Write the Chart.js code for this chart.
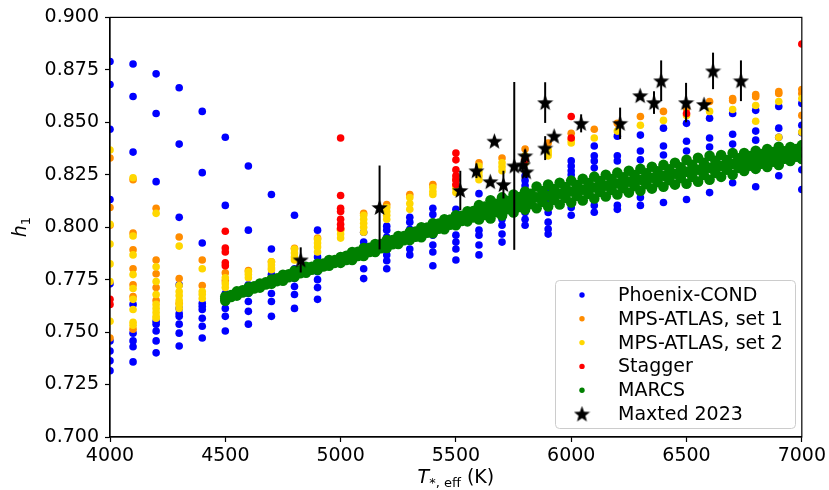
<!DOCTYPE html>
<html>
<head>
<meta charset="utf-8">
<script src="https://cdn.jsdelivr.net/npm/chart.js@4/dist/chart.umd.min.js"></script>
<style>
  html, body { margin: 0; padding: 0; background: #fff; }
  #c { display: block; }
</style>
</head>
<body>
<canvas id="c" width="829" height="490"></canvas>
<script>
// Phoenix-COND: one column of h1 values per temperature
const phoenixTemps = [4000, 4100, 4200, 4300, 4400, 4500, 4600, 4700, 4800, 4900, 5100, 5200, 5300, 5400, 5500,
  5600, 5700, 5800, 5900, 6000, 6100, 6200, 6300, 6400, 6500, 6600, 6700, 6800, 6900, 7000];
const phoenixH = [
  [0.879, 0.868, 0.8467, 0.8132, 0.773, 0.7458, 0.741, 0.7363, 0.7316],
  [0.8778, 0.8623, 0.8358, 0.7632, 0.7495, 0.7458, 0.743, 0.7358],
  [0.8731, 0.8542, 0.8217, 0.7552, 0.7538, 0.7505, 0.7458, 0.7401],
  [0.8665, 0.8396, 0.8047, 0.7726, 0.7613, 0.7589, 0.7575, 0.7538, 0.7495, 0.7434],
  [0.8552, 0.826, 0.7925, 0.7637, 0.7623, 0.7608, 0.7566, 0.7528, 0.7472],
  [0.8429, 0.8104, 0.7684, 0.7646, 0.7613, 0.7575, 0.7505],
  [0.8292, 0.7986, 0.7726, 0.7684, 0.7646, 0.7599, 0.7538],
  [0.8156, 0.7896, 0.7774, 0.7731, 0.7684, 0.7646, 0.7575],
  [0.8057, 0.7802, 0.7755, 0.7717, 0.7679, 0.7613],
  [0.7986, 0.7858, 0.7825, 0.7788, 0.775, 0.7712, 0.7656],
  [0.7976, 0.7929, 0.7896, 0.7858, 0.7802, 0.7755],
  [0.8005, 0.7986, 0.7953, 0.7891, 0.7868, 0.784, 0.7802],
  [0.8047, 0.8024, 0.799, 0.7962, 0.7934, 0.7896, 0.7868],
  [0.809, 0.8061, 0.8024, 0.7995, 0.7962, 0.7915, 0.7882, 0.7816],
  [0.8085, 0.8038, 0.8009, 0.7962, 0.7929, 0.7896, 0.7844],
  [0.816, 0.8104, 0.7986, 0.7962, 0.7915, 0.7868],
  [0.8132, 0.8038, 0.8009, 0.7967, 0.7929],
  [0.8245, 0.8222, 0.8198, 0.807, 0.8038, 0.8009],
  [0.8188, 0.8165, 0.8141, 0.8118, 0.807, 0.8024, 0.7991, 0.7967],
  [0.8316, 0.8292, 0.8269, 0.825, 0.8094, 0.8057],
  [0.8387, 0.834, 0.8316, 0.8283, 0.8104, 0.8071],
  [0.8434, 0.834, 0.8316, 0.8104, 0.8085],
  [0.8439, 0.8363, 0.8321, 0.8141, 0.8104],
  [0.8472, 0.8387, 0.8344, 0.8118],
  [0.8495, 0.841, 0.8363, 0.8132],
  [0.8519, 0.8425, 0.8382, 0.8165],
  [0.8542, 0.8443, 0.8396, 0.8212],
  [0.8557, 0.8458, 0.8415, 0.8193],
  [0.8575, 0.8472, 0.8429, 0.8245],
  [0.859, 0.8486, 0.845, 0.8274, 0.818]
];

// MPS-ATLAS set 1 and set 2 share the same temperature grid
const mpsTemps = [4000, 4100, 4200, 4300, 4400, 4500, 4600, 4700, 4800, 4900, 5000, 5100, 5200, 5300, 5400, 5500,
  5600, 5700, 5800, 5900, 6000, 6100, 6200, 6300, 6400, 6500, 6600, 6700, 6800, 6900, 7000];
const mps1H = [
  [0.833, 0.8094, 0.8009, 0.7472],
  [0.8226, 0.7972, 0.7892, 0.7802, 0.7726, 0.767, 0.7514],
  [0.809, 0.7844, 0.7778, 0.7712, 0.7651],
  [0.7953, 0.7755, 0.7637],
  [0.7844, 0.7722],
  [0.7783, 0.7745],
  [0.7793], [0.7835], [0.79], [0.7948], [0.799], [0.8066], [0.8108], [0.8156], [0.8203], [0.8226],
  [0.8307], [0.833], [0.8373], [0.8401], [0.8448], [0.8467], [0.8495], [0.8528], [0.8552], [0.8566],
  [0.8599], [0.8613, 0.8604], [0.8632, 0.8622], [0.8646, 0.8637], [0.8656, 0.8637, 0.8533]
];
const mps2H = [
  [0.8368, 0.8014, 0.792, 0.7825, 0.7741, 0.7552],
  [0.8236, 0.7958, 0.7868, 0.7774, 0.7708, 0.7656, 0.7608, 0.7547, 0.7533],
  [0.8066, 0.7811, 0.7741, 0.7679, 0.7632, 0.7613, 0.7594, 0.7575, 0.7566],
  [0.791, 0.7722, 0.7693, 0.7674, 0.7651, 0.7632, 0.7613],
  [0.7802, 0.7693, 0.7679, 0.766],
  [0.7759, 0.7731, 0.7712],
  [0.7788, 0.7774, 0.7759],
  [0.7835, 0.782, 0.7806, 0.7797],
  [0.7896, 0.7877, 0.7858, 0.7844],
  [0.7943, 0.7925, 0.7906, 0.7882],
  [0.7986, 0.7967, 0.7948],
  [0.8057, 0.8038, 0.8019, 0.8, 0.7976],
  [0.8094, 0.8075, 0.8057, 0.8038],
  [0.8141, 0.8113, 0.8085],
  [0.8189, 0.817, 0.8156],
  [0.8198, 0.8184, 0.8165],
  [0.8292, 0.8264, 0.8245, 0.8226],
  [0.8307, 0.8288, 0.8269],
  [0.834, 0.8321, 0.8307],
  [0.8368, 0.8354, 0.834],
  [0.8415, 0.8401],
  [0.8425], [0.8458], [0.8486], [0.8509], [0.8533], [0.8552], [0.8561],
  [0.858, 0.8505], [0.8599, 0.8429], [0.8613, 0.8453]
];

// Stagger grid
const staggerTemps = [4000, 4500, 5000, 5500, 5800, 6000, 6500, 7000];
const staggerH = [
  [0.7656, 0.7632],
  [0.7981, 0.7901, 0.7882, 0.783, 0.7816],
  [0.8425, 0.8151, 0.809, 0.8075, 0.8038, 0.8014, 0.7995],
  [0.8354, 0.8321, 0.8274, 0.8245, 0.8226, 0.8203],
  [0.8321],
  [0.8528, 0.8425],
  [0.8542],
  [0.8873]
];

const marcsTemps = [4500, 4550, 4600, 4650, 4700, 4750, 4800, 4850, 4900, 4950, 5000, 5050, 5100, 5150, 5200,
  5250, 5300, 5350, 5400, 5450, 5500, 5550, 5600, 5650, 5700, 5750, 5800, 5850, 5900, 5950, 6000, 6050, 6100,
  6150, 6200, 6250, 6300, 6350, 6400, 6450, 6500, 6550, 6600, 6650, 6700, 6750, 6800, 6850, 6900, 6950, 7000];
const marcsUpper = [0.767, 0.7694, 0.7713, 0.7732, 0.7751, 0.7773, 0.7792, 0.7811, 0.7825, 0.7844, 0.7858,
  0.7882, 0.7901, 0.792, 0.7939, 0.7958, 0.7977, 0.8, 0.8019, 0.8038, 0.8057, 0.8076, 0.8105, 0.8128, 0.8142,
  0.8156, 0.817, 0.8194, 0.8203, 0.8212, 0.8222, 0.8231, 0.8241, 0.825, 0.826, 0.8269, 0.8278, 0.8288, 0.8297,
  0.8307, 0.8321, 0.8331, 0.834, 0.8344, 0.8354, 0.8354, 0.8364, 0.8373, 0.8383, 0.8382, 0.8391];
const marcsCentre = [0.766, 0.7684, 0.7703, 0.7722, 0.7741, 0.7759, 0.7778, 0.7797, 0.7811, 0.783, 0.7844,
  0.7863, 0.7882, 0.7901, 0.792, 0.7939, 0.7958, 0.7976, 0.7995, 0.8014, 0.8033, 0.8052, 0.8071, 0.8085, 0.8099,
  0.8113, 0.8127, 0.8142, 0.8151, 0.816, 0.817, 0.8179, 0.8189, 0.8198, 0.8208, 0.8217, 0.8226, 0.8236, 0.8245,
  0.8255, 0.8264, 0.8274, 0.8283, 0.8292, 0.8302, 0.8311, 0.8321, 0.833, 0.834, 0.8349, 0.8358];
const marcsLower = [0.765, 0.7674, 0.7693, 0.7712, 0.7731, 0.7745, 0.7764, 0.7783, 0.7797, 0.7816, 0.783,
  0.7844, 0.7863, 0.7882, 0.7901, 0.792, 0.7939, 0.7952, 0.7971, 0.799, 0.8009, 0.8028, 0.8037, 0.8042, 0.8056,
  0.807, 0.8084, 0.809, 0.8099, 0.8108, 0.8118, 0.8127, 0.8137, 0.8146, 0.8156, 0.8165, 0.8174, 0.8184, 0.8193,
  0.8203, 0.8207, 0.8217, 0.8226, 0.824, 0.825, 0.8268, 0.8278, 0.8287, 0.8297, 0.8316, 0.8325];
const marcsMidTemps = [4525, 4575, 4625, 4675, 4725, 4775, 4825, 4875, 4925, 4975, 5025, 5075, 5125, 5175,
  5225, 5275, 5325, 5375, 5425, 5475, 5525, 5575, 5625, 5675, 5725, 5775, 5825, 5875, 5925, 5975, 6025, 6075,
  6125, 6175, 6225, 6275, 6325, 6375, 6425, 6475, 6525, 6575, 6625, 6675, 6725, 6775, 6825, 6875, 6925, 6975];
const marcsMidUpper = [0.7677, 0.7699, 0.7718, 0.7737, 0.7757, 0.7776, 0.7795, 0.7811, 0.7827, 0.7844, 0.7864,
  0.7883, 0.7902, 0.792, 0.7939, 0.7958, 0.7979, 0.7998, 0.8017, 0.8036, 0.8054, 0.8077, 0.8098, 0.8112, 0.8126,
  0.8144, 0.8159, 0.8172, 0.8182, 0.8191, 0.8201, 0.821, 0.822, 0.8229, 0.8238, 0.8248, 0.8257, 0.8266, 0.8276,
  0.8286, 0.8298, 0.8307, 0.8317, 0.832, 0.8329, 0.8339, 0.8349, 0.8358, 0.8362, 0.8372];
const marcsMidCentre = [0.7672, 0.7694, 0.7713, 0.7732, 0.775, 0.7769, 0.7788, 0.7804, 0.782, 0.7837, 0.7854,
  0.7873, 0.7892, 0.791, 0.7929, 0.7948, 0.7967, 0.7986, 0.8005, 0.8024, 0.8042, 0.8062, 0.8078, 0.8092, 0.8106,
  0.812, 0.8135, 0.8146, 0.8156, 0.8165, 0.8175, 0.8184, 0.8194, 0.8203, 0.8212, 0.8222, 0.8231, 0.824, 0.825,
  0.826, 0.8269, 0.8278, 0.8288, 0.8297, 0.8306, 0.8316, 0.8326, 0.8335, 0.8344, 0.8354];
const marcsMidLower = [0.7667, 0.7689, 0.7708, 0.7727, 0.7743, 0.7762, 0.7781, 0.7797, 0.7813, 0.783, 0.7844,
  0.7863, 0.7882, 0.79, 0.7919, 0.7938, 0.7955, 0.7974, 0.7993, 0.8012, 0.803, 0.8047, 0.8058, 0.8072, 0.8086,
  0.8096, 0.8111, 0.812, 0.813, 0.8139, 0.8149, 0.8158, 0.8168, 0.8177, 0.8186, 0.8196, 0.8205, 0.8214, 0.8224,
  0.8234, 0.824, 0.8249, 0.8259, 0.8274, 0.8283, 0.8293, 0.8303, 0.8312, 0.8326, 0.8336];

// Maxted 2023 measurements with 1-sigma errors
const maxtedT = [4827, 5169, 5519, 5589, 5649, 5667, 5706, 5753, 5790, 5800, 5805, 5887, 5887, 5926, 6043,
  6212, 6299, 6359, 6390, 6498, 6576, 6615, 6736];
const maxtedH = [0.7844, 0.8094, 0.8175, 0.8269, 0.8217, 0.841, 0.8203, 0.8292, 0.8297, 0.834, 0.8264, 0.8594,
  0.8377, 0.8434, 0.8495, 0.8495, 0.8627, 0.8594, 0.8698, 0.8594, 0.8585, 0.8745, 0.8698];
const maxtedErr = [0.006, 0.02, 0.0094, 0.0035, 0, 0, 0.0066, 0.04, 0.003, 0.003, 0.003, 0.0097, 0.0057, 0,
  0.0043, 0.0075, 0, 0.0054, 0.0097, 0.0094, 0, 0.0087, 0.0097];

const xTicks = [4000, 4500, 5000, 5500, 6000, 6500, 7000];
const yTicks = [0.700, 0.725, 0.750, 0.775, 0.800, 0.825, 0.850, 0.875, 0.900];

function columns(temps, hs) {
  const pts = [];
  temps.forEach((t, i) => hs[i].forEach(h => pts.push({ x: t, y: h })));
  return pts;
}

function rows(temps, ...lists) {
  const pts = [];
  lists.forEach(list => temps.forEach((t, i) => pts.push({ x: t, y: list[i] })));
  return pts;
}

const marcsPts = rows(marcsTemps, marcsUpper, marcsCentre, marcsLower)
  .concat(rows(marcsMidTemps, marcsMidUpper, marcsMidCentre, marcsMidLower));

const maxtedPts = maxtedT.map((t, i) => ({ x: t, y: maxtedH[i] }));

function makeStar(size) {
  const c = document.createElement('canvas');
  c.width = c.height = size;
  const g = c.getContext('2d');
  g.fillStyle = '#000';
  g.beginPath();
  for (let i = 0; i < 10; i++) {
    const r = i % 2 === 0 ? size / 2 : size / 2 * 0.42;
    const a = -Math.PI / 2 + i * Math.PI / 5;
    const px = size / 2 + r * Math.cos(a), py = size / 2 + 0.6 + r * Math.sin(a);
    if (i === 0) g.moveTo(px, py); else g.lineTo(px, py);
  }
  g.closePath();
  g.fill();
  return c;
}
const starImg = makeStar(17);

const FONT = 'DejaVu Sans, sans-serif';

// error bars for the Maxted points
const errorBars = {
  id: 'errorBars',
  afterDatasetsDraw(chart) {
    const ctx = chart.ctx, xs = chart.scales.x, ys = chart.scales.y;
    ctx.save();
    ctx.strokeStyle = '#000';
    ctx.lineWidth = 2;
    maxtedT.forEach((t, i) => {
      if (!maxtedErr[i]) return;
      const px = xs.getPixelForValue(t);
      ctx.beginPath();
      ctx.moveTo(px, ys.getPixelForValue(maxtedH[i] - maxtedErr[i]));
      ctx.lineTo(px, ys.getPixelForValue(maxtedH[i] + maxtedErr[i]));
      ctx.stroke();
    });
    ctx.restore();
  }
};

// frame, axis titles and the legend box (matplotlib style)
const decorations = {
  id: 'decorations',
  afterDraw(chart) {
    const ctx = chart.ctx, a = chart.chartArea;
    ctx.save();
    ctx.strokeStyle = '#000';
    ctx.lineWidth = 1.2;
    ctx.strokeRect(a.left, a.top, a.right - a.left, a.bottom - a.top);

    // x title: T_{*,eff} (K)
    ctx.fillStyle = '#000';
    ctx.textBaseline = 'alphabetic';
    const parts = [
      { t: 'T', f: 'italic 19px ' + FONT, dy: 0 },
      { t: '*, eff', f: '13px ' + FONT, dy: 4 },
      { t: ' (K)', f: '19px ' + FONT, dy: 0 }
    ];
    let w = 0;
    parts.forEach(p => { ctx.font = p.f; w += ctx.measureText(p.t).width; });
    let x = (a.left + a.right) / 2 - w / 2;
    parts.forEach(p => { ctx.font = p.f; ctx.fillText(p.t, x, 483 + p.dy); x += ctx.measureText(p.t).width; });

    // y title: h_1
    ctx.save();
    ctx.translate(26, (a.top + a.bottom) / 2);
    ctx.rotate(-Math.PI / 2);
    ctx.font = 'italic 19px ' + FONT;
    const hw = ctx.measureText('h').width;
    ctx.font = '13px ' + FONT;
    const ow = ctx.measureText('1').width;
    ctx.font = 'italic 19px ' + FONT;
    ctx.fillText('h', -(hw + ow) / 2, 0);
    ctx.font = '13px ' + FONT;
    ctx.fillText('1', -(hw + ow) / 2 + hw, 4);
    ctx.restore();

    // legend
    const lx = 555, ly = 280, lw = 240, lh = 148;
    ctx.fillStyle = 'rgba(255,255,255,0.8)';
    ctx.strokeStyle = '#cccccc';
    ctx.lineWidth = 1;
    ctx.beginPath();
    ctx.roundRect(lx + 0.5, ly + 0.5, lw, lh, 4);
    ctx.fill();
    ctx.stroke();
    ctx.font = '19px ' + FONT;
    ctx.textBaseline = 'middle';
    chart.data.datasets.forEach((ds, i) => {
      const cy = 295 + i * 23.8;
      if (ds.pointStyle === starImg) {
        ctx.drawImage(starImg, 582 - 8.5, cy - 8.5);
      } else {
        ctx.fillStyle = ds.backgroundColor;
        ctx.beginPath();
        ctx.arc(582, cy, 2.7, 0, Math.PI * 2);
        ctx.fill();
      }
      ctx.fillStyle = '#000';
      ctx.fillText(ds.label, 618, cy + 1);
    });
    ctx.restore();
  }
};

new Chart(document.getElementById('c'), {
  type: 'scatter',
  data: {
    datasets: [
      { label: 'Phoenix-COND', data: columns(phoenixTemps, phoenixH), backgroundColor: '#0000ff',
        borderWidth: 0, pointRadius: 3.8, order: 5 },
      { label: 'MPS-ATLAS, set 1', data: columns(mpsTemps, mps1H), backgroundColor: '#ff8c00',
        borderWidth: 0, pointRadius: 3.8, order: 4 },
      { label: 'MPS-ATLAS, set 2', data: columns(mpsTemps, mps2H), backgroundColor: '#ffd700',
        borderWidth: 0, pointRadius: 3.8, order: 3 },
      { label: 'Stagger', data: columns(staggerTemps, staggerH), backgroundColor: '#ff0000',
        borderWidth: 0, pointRadius: 3.8, order: 2 },
      { label: 'MARCS', data: marcsPts, backgroundColor: '#008000',
        borderWidth: 0, pointRadius: 5.3, order: 1 },
      { label: 'Maxted 2023', data: maxtedPts, backgroundColor: '#000', pointStyle: starImg,
        pointRadius: 8, order: 0 }
    ]
  },
  options: {
    responsive: false,
    animation: false,
    events: [],
    layout: { padding: { left: 0, top: 13, right: 26, bottom: 0 } },
    plugins: { legend: { display: false }, tooltip: { enabled: false } },
    scales: {
      x: {
        type: 'linear', min: 4000, max: 7000,
        afterFit: s => { s.height = 53; },
        afterBuildTicks: s => { s.ticks = xTicks.map(v => ({ value: v })); },
        grid: { drawOnChartArea: false, drawTicks: true, tickLength: 5, color: '#000', tickWidth: 1.2 },
        border: { color: '#000', width: 1.2 },
        ticks: { color: '#000', font: { family: FONT, size: 19 }, padding: 3, maxRotation: 0,
          callback: v => String(v) }
      },
      y: {
        type: 'linear', min: 0.7, max: 0.9,
        afterFit: s => { s.width = 110; },
        afterBuildTicks: s => { s.ticks = yTicks.map(v => ({ value: v })); },
        grid: { drawOnChartArea: false, drawTicks: true, tickLength: 5, color: '#000', tickWidth: 1.2 },
        border: { color: '#000', width: 1.2 },
        ticks: { color: '#000', font: { family: FONT, size: 19 }, padding: 6,
          callback: v => Number(v).toFixed(3) }
      }
    }
  },
  plugins: [errorBars, decorations]
});
</script>
</body>
</html>
